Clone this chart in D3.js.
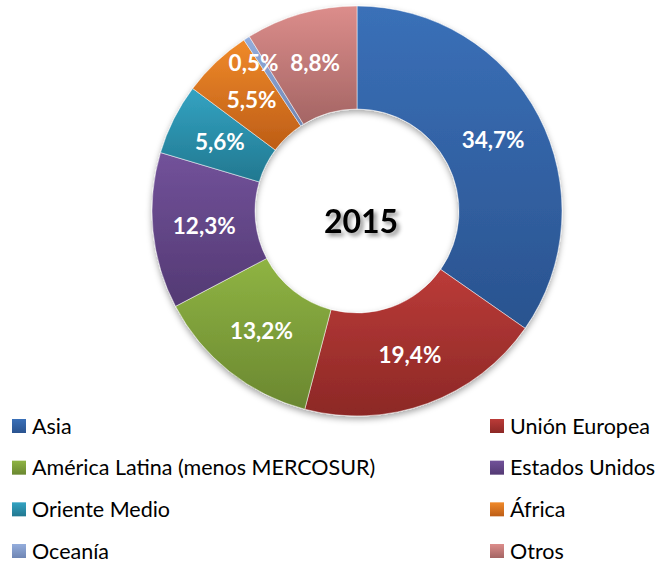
<!DOCTYPE html>
<html>
<head>
<meta charset="utf-8">
<script src="https://cdn.jsdelivr.net/npm/d3@7/dist/d3.min.js"></script>
<style>
  body { margin: 0; background: #fff; }
  text { font-family: Lato, "Open Sans", sans-serif; }
</style>
</head>
<body>
<div id="chart"></div>
<script>
// data
const regions = ["Asia", "Unión Europea", "América Latina (menos MERCOSUR)", "Estados Unidos",
                 "Oriente Medio", "África", "Oceanía", "Otros"];
const shares = [34.7, 19.4, 13.2, 12.3, 5.6, 5.5, 0.5, 8.8];
const colorsLight = ["#3a70b8", "#bb3b38", "#8fb443", "#72529a", "#33a3c2", "#f08a2a", "#94addc", "#dc8d8b"];
const colorsDark  = ["#2a538f", "#8c2826", "#6a8730", "#533973", "#227890", "#bd5d16", "#6f86b4", "#a46564"];
const centerLabel = "2015";

const width = 659, height = 564;
const cx = 357, cy = 211, outerR = 205, innerR = 102;

const svg = d3.select("#chart").append("svg")
  .attr("width", width).attr("height", height);

const defs = svg.append("defs");

// gradient per slice, light on top and dark at the bottom
regions.forEach((r, i) => {
  const g = defs.append("linearGradient")
    .attr("id", "grad" + i)
    .attr("x1", 0).attr("y1", 0).attr("x2", 0).attr("y2", 1);
  g.append("stop").attr("offset", "0%").attr("stop-color", colorsLight[i]);
  g.append("stop").attr("offset", "100%").attr("stop-color", colorsDark[i]);
});

const shadow = defs.append("filter").attr("id", "shadow")
  .attr("x", "-20%").attr("y", "-20%").attr("width", "140%").attr("height", "140%");
shadow.append("feDropShadow").attr("dx", 0).attr("dy", 3).attr("stdDeviation", 3)
  .attr("flood-color", "#000").attr("flood-opacity", 0.35);

const textShadow = defs.append("filter").attr("id", "textShadow")
  .attr("x", "-30%").attr("y", "-50%").attr("width", "160%").attr("height", "200%");
textShadow.append("feDropShadow").attr("dx", 3).attr("dy", 3).attr("stdDeviation", 2)
  .attr("flood-color", "#000").attr("flood-opacity", 0.45);

const data = regions.map((r, i) => ({ name: r, value: shares[i], idx: i }));

const pie = d3.pie().value(d => d.value).sort(null);
const arcs = pie(data);
const arc = d3.arc().innerRadius(innerR).outerRadius(outerR);

const donut = svg.append("g")
  .attr("transform", `translate(${cx},${cy})`);

donut.append("g").attr("filter", "url(#shadow)")
  .selectAll("path")
  .data(arcs)
  .join("path")
  .attr("d", arc)
  .attr("fill", d => `url(#grad${d.data.idx})`)
  .attr("stroke", "#fff")
  .attr("stroke-width", 0.5);

// labels at the middle of the ring; the tiny slice label is pushed outwards
const labelArc = d3.arc().innerRadius((innerR + outerR) / 2).outerRadius((innerR + outerR) / 2);
const fmt = v => v.toFixed(1).replace(".", ",") + "%";

donut.selectAll("text.lbl")
  .data(arcs)
  .join("text")
  .attr("class", "lbl")
  .attr("transform", d => {
    let p;
    if (d.data.value < 1) {
      const a = (d.startAngle + d.endAngle) / 2 - 0.04;
      const r = outerR - 24;
      p = [Math.sin(a) * r, -Math.cos(a) * r];
    } else {
      p = labelArc.centroid(d);
    }
    return `translate(${p[0]},${p[1]})`;
  })
  .attr("text-anchor", "middle")
  .attr("dy", "0.36em")
  .attr("fill", "#fff")
  .attr("font-weight", "bold")
  .attr("font-size", 22.5)
  .text(d => fmt(d.data.value));

donut.append("text")
  .attr("x", 4).attr("y", 10)
  .attr("text-anchor", "middle")
  .attr("dy", "0.36em")
  .attr("font-size", 32)
  .attr("font-weight", "bold")
  .attr("fill", "#000")
  .attr("filter", "url(#textShadow)")
  .text(centerLabel);

// legend, two columns
const legend = svg.append("g");
const colX = [12, 490];
const rowY = d3.scalePoint().domain(d3.range(4)).range([426, 551]);

const items = legend.selectAll("g.item")
  .data(data)
  .join("g")
  .attr("class", "item")
  .attr("transform", d => `translate(${colX[d.idx % 2]},${rowY(Math.floor(d.idx / 2))})`);

items.append("rect")
  .attr("x", 0).attr("y", -7)
  .attr("width", 14).attr("height", 14)
  .attr("fill", d => `url(#grad${d.idx})`);

items.append("text")
  .attr("x", 20)
  .attr("dy", "0.36em")
  .attr("font-size", 21.5)
  .attr("fill", "#000")
  .text(d => d.name);
</script>
</body>
</html>
